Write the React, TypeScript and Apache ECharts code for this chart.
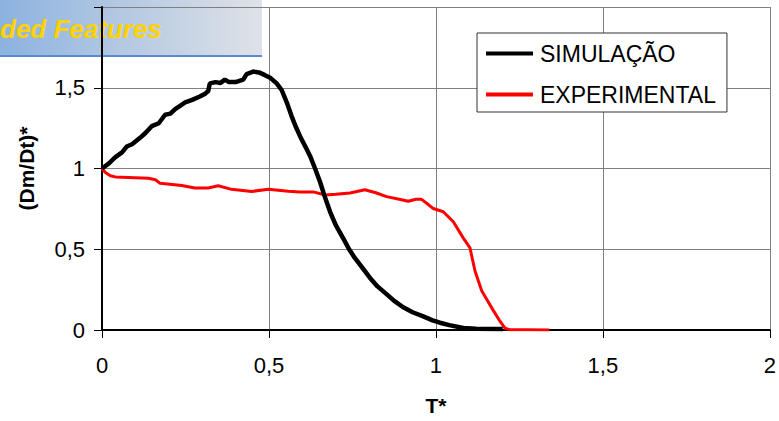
import React, { useEffect, useRef } from "react";
import * as echarts from "echarts";

const simT = [0, 0.02, 0.04, 0.06, 0.074, 0.09, 0.114, 0.13, 0.149, 0.17, 0.189, 0.205, 0.219, 0.235, 0.249, 0.27, 0.293, 0.31, 0.318, 0.323, 0.34, 0.355, 0.368, 0.38, 0.4, 0.423, 0.433, 0.453, 0.47, 0.488, 0.505, 0.523, 0.538, 0.555, 0.568, 0.58, 0.593, 0.613, 0.623, 0.638, 0.653, 0.668, 0.683, 0.7, 0.722, 0.74, 0.757, 0.78, 0.802, 0.825, 0.852, 0.875, 0.902, 0.93, 0.962, 0.99, 1.012, 1.04, 1.082, 1.12, 1.2];
const simV = [1.0, 1.03, 1.07, 1.1, 1.136, 1.15, 1.19, 1.22, 1.262, 1.28, 1.333, 1.34, 1.368, 1.39, 1.409, 1.425, 1.446, 1.465, 1.48, 1.527, 1.535, 1.53, 1.55, 1.535, 1.535, 1.55, 1.585, 1.6, 1.595, 1.578, 1.56, 1.527, 1.486, 1.4, 1.323, 1.26, 1.2, 1.119, 1.078, 1.0, 0.916, 0.82, 0.732, 0.65, 0.569, 0.5, 0.446, 0.385, 0.324, 0.27, 0.222, 0.18, 0.141, 0.11, 0.084, 0.06, 0.045, 0.03, 0.012, 0.008, 0.006];

const expT = [0, 0.01, 0.025, 0.04, 0.079, 0.139, 0.16, 0.174, 0.239, 0.278, 0.318, 0.348, 0.388, 0.448, 0.498, 0.558, 0.593, 0.633, 0.668, 0.7, 0.743, 0.787, 0.82, 0.852, 0.89, 0.917, 0.94, 0.957, 0.975, 0.992, 1.022, 1.052, 1.082, 1.102, 1.117, 1.137, 1.155, 1.172, 1.19, 1.207, 1.22, 1.272, 1.34];
const expV = [1.0, 0.975, 0.955, 0.948, 0.945, 0.94, 0.93, 0.908, 0.895, 0.879, 0.879, 0.893, 0.871, 0.858, 0.871, 0.859, 0.855, 0.855, 0.836, 0.84, 0.848, 0.868, 0.85, 0.826, 0.81, 0.797, 0.81, 0.809, 0.78, 0.752, 0.732, 0.67, 0.569, 0.508, 0.365, 0.243, 0.18, 0.12, 0.06, 0.012, 0.002, 0.002, 0];

const seriesNames = ["SIMULAÇÃO", "EXPERIMENTAL"];
const xTitle = "T*";
const yTitle = "(Dm/Dt)*";
const bannerText = "ded Features";

const FONT = "'Liberation Sans', Arial, sans-serif";
const fmt = (v: number) => String(v).replace(".", ",");

export default function App() {
  const ref = useRef<HTMLDivElement>(null);
  useEffect(() => {
    if (!ref.current) return;
    const chart = echarts.init(ref.current, null, { renderer: "svg" });
    const axisLabel = { fontFamily: FONT, fontSize: 22, color: "#000" };
    chart.setOption({
      animation: false,
      backgroundColor: "#fff",
      grid: { left: 102, right: 9, top: 7, bottom: 88 },
      legend: {
        orient: "vertical",
        left: 477,
        top: 33,
        padding: [9, 11, 6, 9],
        itemWidth: 47,
        itemHeight: 4,
        itemGap: 18,
        icon: "rect",
        backgroundColor: "#fff",
        borderColor: "#333",
        borderWidth: 1,
        borderRadius: 0,
        textStyle: { fontFamily: FONT, fontSize: 23, color: "#000", padding: [0, 0, 0, 2] },
        data: seriesNames,
      },
      xAxis: {
        type: "value",
        min: 0,
        max: 2,
        interval: 0.5,
        name: xTitle,
        nameLocation: "middle",
        nameGap: 65,
        nameTextStyle: { fontFamily: FONT, fontSize: 21, fontWeight: "bold", color: "#000" },
        axisLine: { onZero: false, lineStyle: { color: "#000", width: 2 } },
        axisTick: { show: true, length: 8, lineStyle: { color: "#000", width: 1 } },
        axisLabel: { ...axisLabel, margin: 24, formatter: (v: number) => fmt(v) },
        splitLine: { show: true, lineStyle: { color: "#808080", width: 1 } },
      },
      yAxis: {
        type: "value",
        min: 0,
        max: 2,
        interval: 0.5,
        name: yTitle,
        nameLocation: "middle",
        nameGap: 65,
        nameTextStyle: { fontFamily: FONT, fontSize: 21, fontWeight: "bold", color: "#000" },
        axisLine: { show: true, onZero: false, lineStyle: { color: "#000", width: 2 } },
        axisTick: { show: true, length: 8, lineStyle: { color: "#000", width: 1 } },
        axisLabel: { ...axisLabel, margin: 17, formatter: (v: number) => (v === 2 ? "" : fmt(v)) },
        splitLine: { show: true, lineStyle: { color: "#808080", width: 1 } },
      },
      series: [
        {
          name: seriesNames[0],
          type: "line",
          data: simT.map((t, i) => [t, simV[i]]),
          showSymbol: false,
          symbol: "none",
          color: "#000",
          lineStyle: { color: "#000", width: 4.5 },
          z: 3,
        },
        {
          name: seriesNames[1],
          type: "line",
          data: expT.map((t, i) => [t, expV[i]]),
          showSymbol: false,
          symbol: "none",
          color: "#ff0000",
          lineStyle: { color: "#ff0000", width: 3 },
          z: 2,
        },
      ],
      graphic: [
        {
          type: "group",
          z: 100,
          children: [
            {
              type: "rect",
              shape: { x: 0, y: 0, width: 262, height: 56 },
              style: {
                fill: new echarts.graphic.LinearGradient(0, 0, 1, 0, [
                  { offset: 0, color: "#8cb2e0" },
                  { offset: 0.5, color: "#b7cae2" },
                  { offset: 1, color: "#dfe2e8" },
                ]),
              },
            },
            {
              type: "rect",
              shape: { x: 0, y: 55, width: 262, height: 2 },
              style: { fill: "#5a8bd0" },
            },
            {
              type: "text",
              x: 0,
              y: 29,
              style: {
                text: bannerText,
                fill: "#ffd200",
                font: `italic bold 26px ${FONT}`,
                verticalAlign: "middle",
                align: "left",
              },
            },
          ],
        },
      ],
    });
    return () => chart.dispose();
  }, []);
  return (
    <div
      ref={ref}
      style={{ position: "fixed", left: 0, top: 0, width: 779, height: 421, background: "#fff" }}
    />
  );
}
